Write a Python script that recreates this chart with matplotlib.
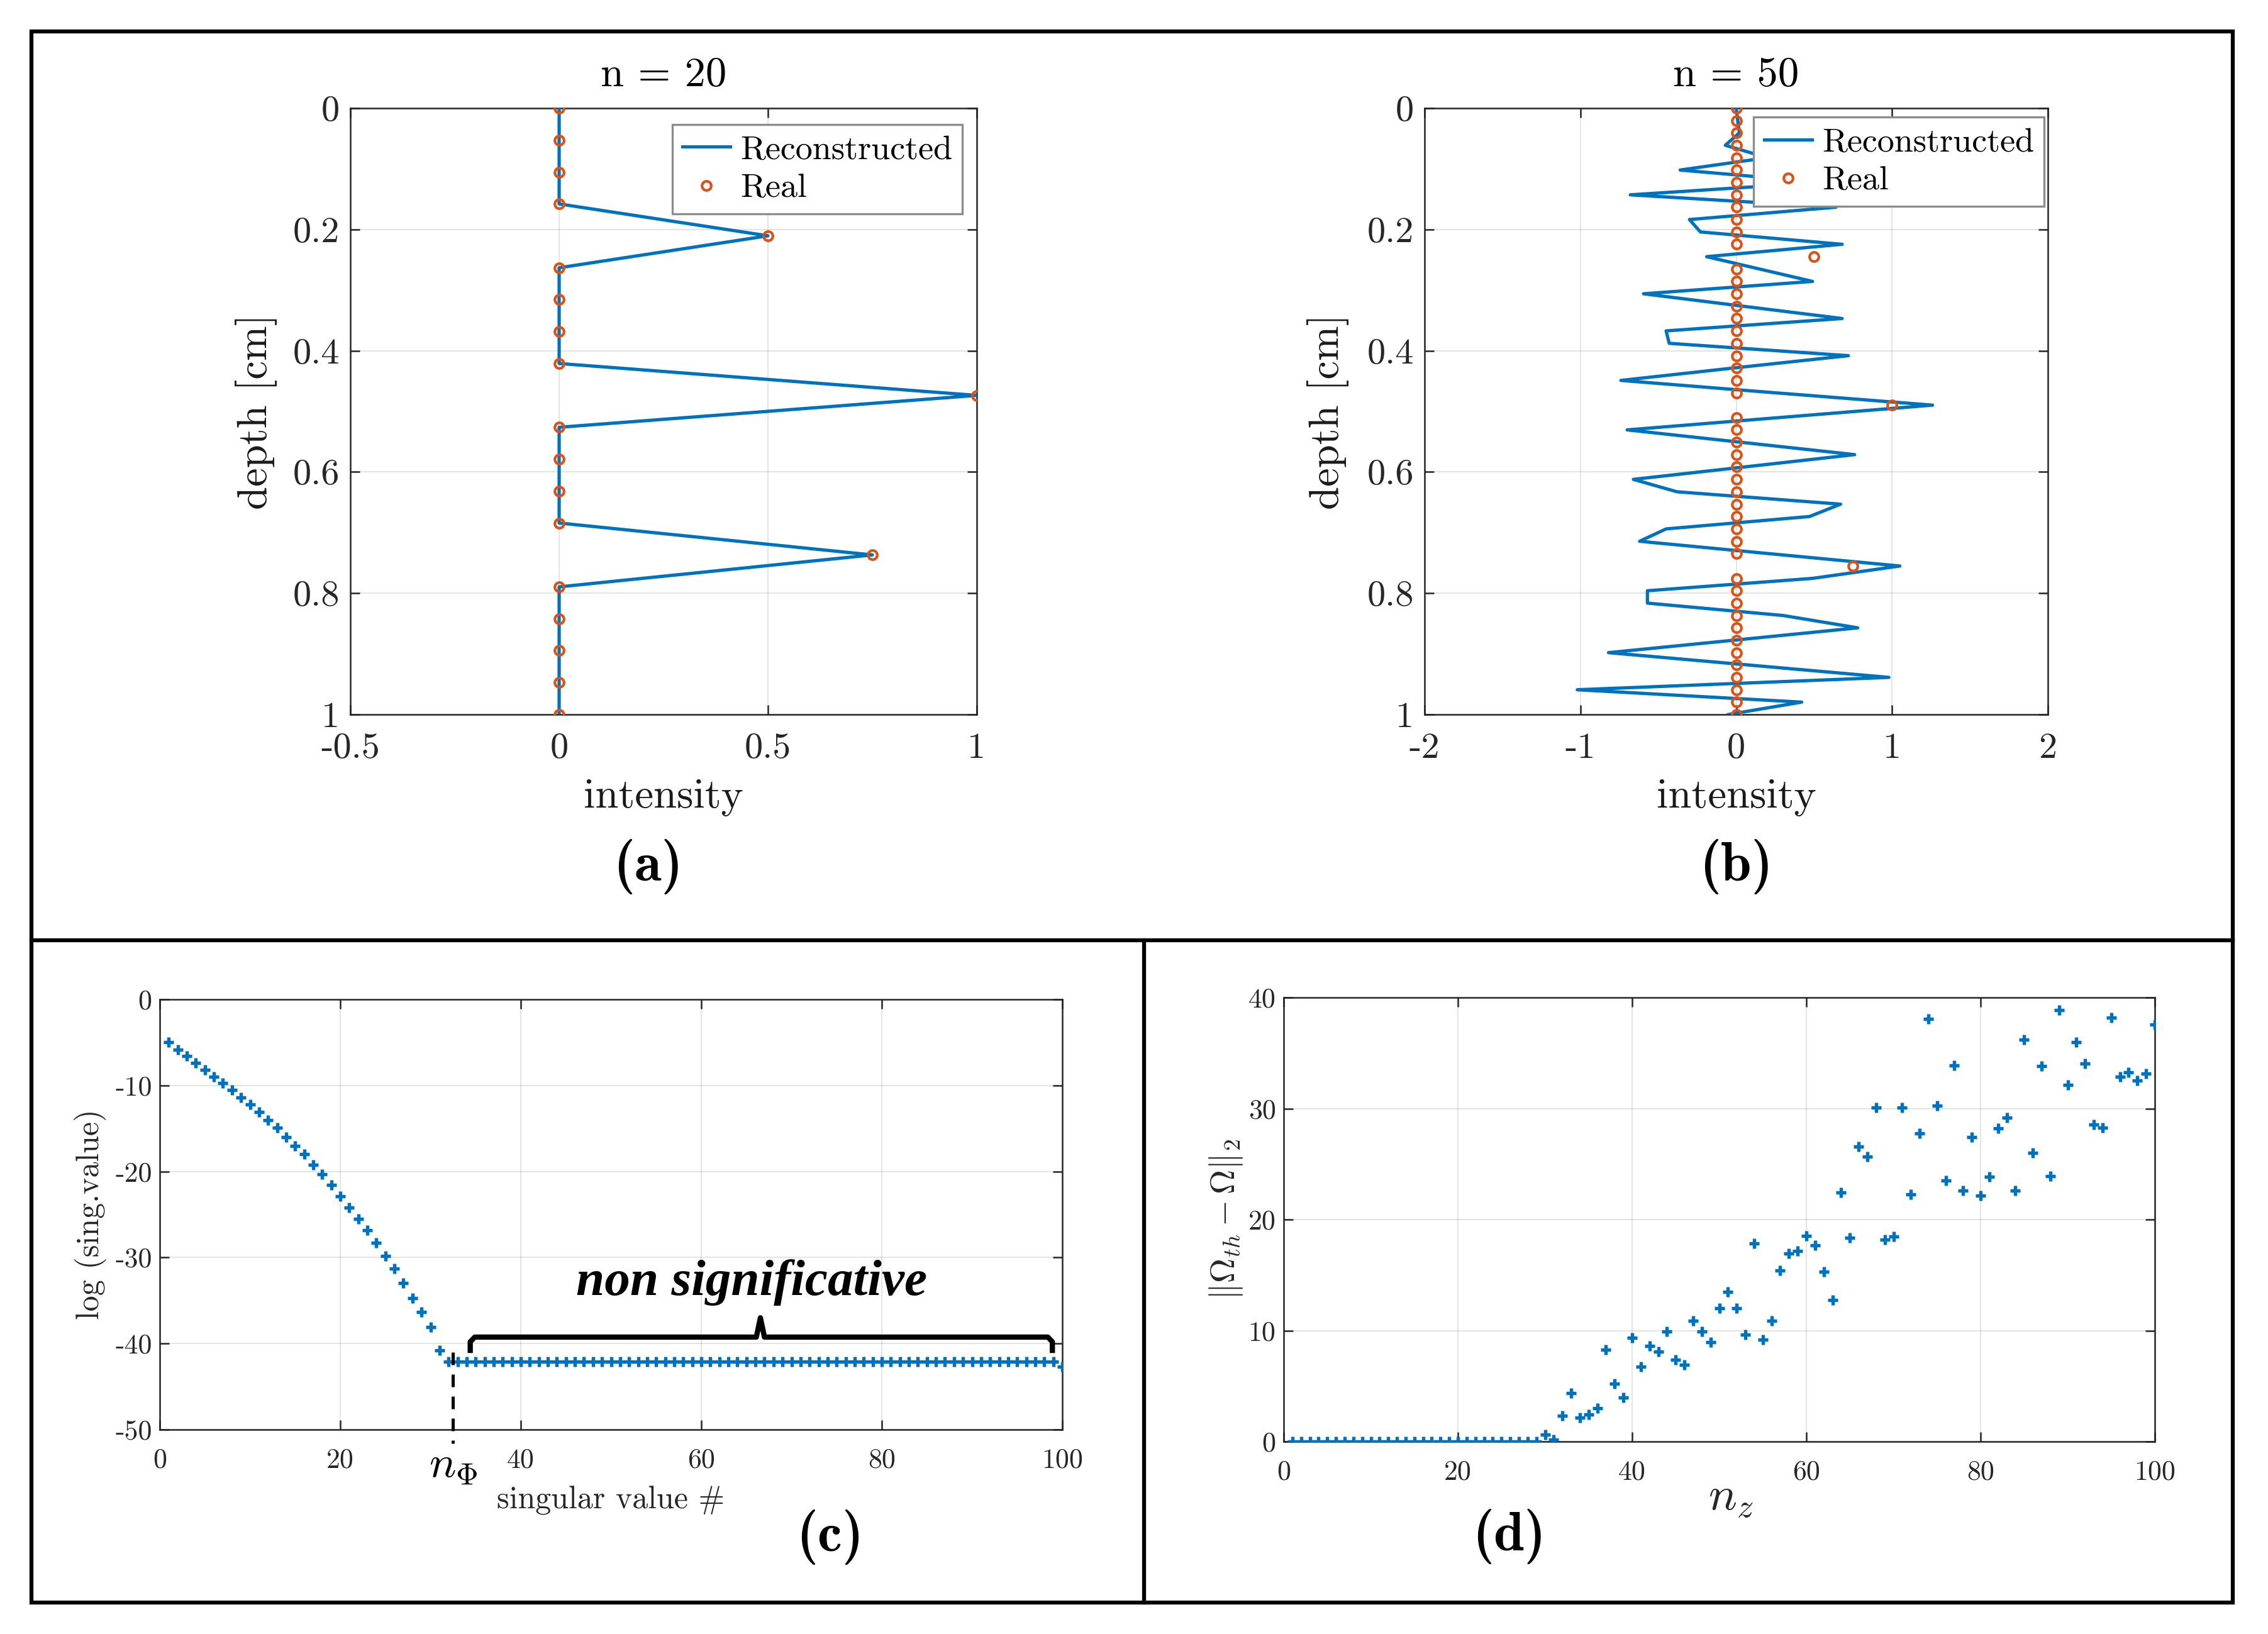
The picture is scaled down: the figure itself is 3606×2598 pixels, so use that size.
import numpy as np
import matplotlib
matplotlib.use("Agg")
import matplotlib.pyplot as plt
from matplotlib.lines import Line2D
from matplotlib.patches import Rectangle
import matplotlib.transforms as mtransforms

plt.rcParams['font.family'] = ['cmr10', 'DejaVu Serif']
plt.rcParams['mathtext.fontset'] = 'cm'
plt.rcParams['axes.unicode_minus'] = False
plt.rcParams['axes.formatter.use_mathtext'] = False

# ---------------- data ----------------
# panel (a): n = 20
depth_a = [0.0, 0.0526, 0.1053, 0.1579, 0.2105, 0.2632, 0.3158, 0.3684, 0.4211, 0.4737,
           0.5263, 0.5789, 0.6316, 0.6842, 0.7368, 0.7895, 0.8421, 0.8947, 0.9474, 1.0]
real_a = [0, 0, 0, 0, 0.5, 0, 0, 0, 0, 1.0,
          0, 0, 0, 0, 0.75, 0, 0, 0, 0, 0]
recon_a = [0, 0, 0, 0, 0.5, 0, 0, 0, 0, 1.0,
           0, 0, 0, 0, 0.75, 0, 0, 0, 0, 0]

# panel (b): n = 50
depth_b = [0.0, 0.0204, 0.0408, 0.0612, 0.0816, 0.1020, 0.1224, 0.1429, 0.1633, 0.1837,
           0.2041, 0.2245, 0.2449, 0.2653, 0.2857, 0.3061, 0.3265, 0.3469, 0.3673, 0.3878,
           0.4082, 0.4286, 0.4490, 0.4694, 0.4898, 0.5102, 0.5306, 0.5510, 0.5714, 0.5918,
           0.6122, 0.6327, 0.6531, 0.6735, 0.6939, 0.7143, 0.7347, 0.7551, 0.7755, 0.7959,
           0.8163, 0.8367, 0.8571, 0.8776, 0.8980, 0.9184, 0.9388, 0.9592, 0.9796, 1.0]
real_b = [0, 0, 0, 0, 0, 0, 0, 0, 0, 0,
          0, 0, 0.5, 0, 0, 0, 0, 0, 0, 0,
          0, 0, 0, 0, 1.0, 0, 0, 0, 0, 0,
          0, 0, 0, 0, 0, 0, 0, 0.75, 0, 0,
          0, 0, 0, 0, 0, 0, 0, 0, 0, 0]
recon_b = [0.0, 0.01, 0.02, -0.07, 0.2, -0.36, 0.55, -0.68, 0.64, -0.30,
           -0.23, 0.68, -0.19, 0.15, 0.49, -0.595, 0.04, 0.68, -0.45, -0.43,
           0.72, -0.02, -0.74, 0.25, 1.26, 0.28, -0.70, 0.03, 0.76, 0.05,
           -0.66, -0.38, 0.67, 0.47, -0.45, -0.62, 0.21, 1.05, 0.49, -0.57,
           -0.57, 0.30, 0.78, -0.02, -0.82, 0.08, 0.98, -1.02, 0.42, -0.05]

# panel (c): log of singular values
sv_index = np.arange(1, 101)
sv_log = [-4.94, -5.83, -6.6, -7.4, -8.2, -8.96, -9.75, -10.5, -11.4, -12.2,
          -13.1, -14.0, -14.9, -16.0, -17.0, -18.0, -19.2, -20.3, -21.6, -22.9,
          -24.2, -25.5, -26.8, -28.3, -29.8, -31.3, -33.0, -34.7, -36.3, -38.1,
          -40.8, -42.1, -42.1, -42.1, -42.1, -42.1, -42.1, -42.1, -42.1, -42.1,
          -42.1, -42.1, -42.1, -42.1, -42.1, -42.1, -42.1, -42.1, -42.1, -42.1,
          -42.1, -42.1, -42.1, -42.1, -42.1, -42.1, -42.1, -42.1, -42.1, -42.1,
          -42.1, -42.1, -42.1, -42.1, -42.1, -42.1, -42.1, -42.1, -42.1, -42.1,
          -42.1, -42.1, -42.1, -42.1, -42.1, -42.1, -42.1, -42.1, -42.1, -42.1,
          -42.1, -42.1, -42.1, -42.1, -42.1, -42.1, -42.1, -42.1, -42.1, -42.1,
          -42.1, -42.1, -42.1, -42.1, -42.1, -42.1, -42.1, -42.1, -42.1, -42.7]
n_phi = 32.5

# panel (d): error norm vs n_z
nz = np.arange(1, 101)
err_norm = [0, 0, 0, 0, 0, 0, 0, 0, 0, 0,
            0, 0, 0, 0, 0, 0, 0, 0, 0, 0,
            0, 0, 0, 0, 0, 0, 0, 0, 0, 0.65,
            0.16, 2.34, 4.39, 2.18, 2.44, 3.02, 8.26, 5.2, 3.97, 9.37,
            6.76, 8.62, 8.13, 9.92, 7.38, 6.93, 10.89, 9.92, 8.98, 12.03,
            13.5, 12.03, 9.66, 17.82, 9.17, 10.86, 15.41, 16.94, 17.17, 18.54,
            17.69, 15.28, 12.75, 22.44, 18.34, 26.6, 25.69, 30.08, 18.21, 18.47,
            30.08, 22.28, 27.74, 38.05, 30.24, 23.54, 33.89, 22.63, 27.45, 22.18,
            23.87, 28.2, 29.17, 22.63, 36.2, 26.02, 33.82, 23.93, 38.86, 32.13,
            36.0, 34.05, 28.55, 28.29, 38.21, 32.85, 33.27, 32.52, 33.17, 37.56]

# tick labels
xt_a = [-0.5, 0, 0.5, 1]
xt_a_lab = ['-0.5', '0', '0.5', '1']
xt_b = [-2, -1, 0, 1, 2]
xt_b_lab = ['-2', '-1', '0', '1', '2']
yt_ab = [0, 0.2, 0.4, 0.6, 0.8, 1]
yt_ab_lab = ['0', '0.2', '0.4', '0.6', '0.8', '1']
xt_cd = [0, 20, 40, 60, 80, 100]
xt_cd_lab = ['0', '20', '40', '60', '80', '100']
yt_c = [0, -10, -20, -30, -40, -50]
yt_c_lab = ['0', '-10', '-20', '-30', '-40', '-50']
yt_d = [0, 10, 20, 30, 40]
yt_d_lab = ['0', '10', '20', '30', '40']
panel_letters = ['(a)', '(b)', '(c)', '(d)']

# ---------------- style ----------------
BLUE = '#0072BD'
ORANGE = '#D95319'
AXC = '0.15'
W, H = 3606, 2598

fig = plt.figure(figsize=(W / 300, H / 300), dpi=300)


def axes_px(x0, y0, x1, y1):
    return fig.add_axes([x0 / W, 1 - y1 / H, (x1 - x0) / W, (y1 - y0) / H])


def matlab_style(ax, tick_fs):
    for s in ax.spines.values():
        s.set_color(AXC)
        s.set_linewidth(0.6)
    ax.tick_params(direction='in', which='both', top=True, right=True,
                   length=3.5, width=0.6, color=AXC, labelcolor=AXC,
                   labelsize=tick_fs)
    ax.grid(True, color=AXC, alpha=0.12, linewidth=0.5)
    ax.set_axisbelow(True)


# ---- panel (a) ----
ax_a = axes_px(557, 172, 1553, 1136)
matlab_style(ax_a, 14)
ax_a.plot(recon_a, depth_a, color=BLUE, lw=1.25, label='Reconstructed', zorder=3)
ax_a.plot(real_a, depth_a, 'o', mfc='none', mec=ORANGE, ms=3.5, mew=1.0,
          label='Real', zorder=4)
ax_a.set_xlim(-0.5, 1)
ax_a.set_ylim(1, 0)
ax_a.set_xticks(xt_a)
ax_a.set_xticklabels(xt_a_lab)
ax_a.set_yticks(yt_ab)
ax_a.set_yticklabels(yt_ab_lab)
ax_a.tick_params(axis='x', pad=7)
ax_a.tick_params(axis='y', pad=4)
ax_a.set_xlabel('intensity', fontsize=16, color='0.1')
ax_a.set_ylabel('depth [cm]', fontsize=16, color='0.1')
ax_a.xaxis.set_label_coords(0.5, -0.137)
ax_a.yaxis.set_label_coords(-0.150, 0.5)
ax_a.xaxis.label.set_va('center')
ax_a.yaxis.label.set_va('center')
ax_a.text(0.5, 1.054, 'n = 20', transform=ax_a.transAxes, ha='center',
          va='center', fontsize=16)
leg = ax_a.legend(loc='upper right', bbox_to_anchor=(0.977, 0.973),
                  borderaxespad=0, fontsize=13, fancybox=False, framealpha=1,
                  edgecolor='0.55', borderpad=0.3, handletextpad=0.3,
                  labelspacing=0.25, handlelength=1.4)
leg.get_frame().set_linewidth(0.8)

# ---- panel (b) ----
ax_b = axes_px(2265, 172, 3256, 1136)
matlab_style(ax_b, 14)
ax_b.plot(recon_b, depth_b, color=BLUE, lw=1.25, label='Reconstructed', zorder=3)
ax_b.plot(real_b, depth_b, 'o', mfc='none', mec=ORANGE, ms=3.5, mew=1.0,
          label='Real', zorder=4)
ax_b.set_xlim(-2, 2)
ax_b.set_ylim(1, 0)
ax_b.set_xticks(xt_b)
ax_b.set_xticklabels(xt_b_lab)
ax_b.set_yticks(yt_ab)
ax_b.set_yticklabels(yt_ab_lab)
ax_b.tick_params(axis='x', pad=7)
ax_b.tick_params(axis='y', pad=4)
ax_b.set_xlabel('intensity', fontsize=16, color='0.1')
ax_b.set_ylabel('depth [cm]', fontsize=16, color='0.1')
ax_b.xaxis.set_label_coords(0.5, -0.137)
ax_b.yaxis.set_label_coords(-0.155, 0.5)
ax_b.xaxis.label.set_va('center')
ax_b.yaxis.label.set_va('center')
ax_b.text(0.5, 1.054, 'n = 50', transform=ax_b.transAxes, ha='center',
          va='center', fontsize=16)
leg = ax_b.legend(loc='upper right', bbox_to_anchor=(0.994, 0.985),
                  borderaxespad=0, fontsize=13, fancybox=False, framealpha=1,
                  edgecolor='0.55', borderpad=0.3, handletextpad=0.3,
                  labelspacing=0.25, handlelength=1.4)
leg.get_frame().set_linewidth(0.8)

# ---- panel (c) ----
ax_c = axes_px(254, 1589, 1689, 2273)
matlab_style(ax_c, 10.5)
ax_c.plot(sv_index, sv_log, '+', color=BLUE, ms=4, mew=1.3, zorder=3)
ax_c.set_xlim(0, 100)
ax_c.set_ylim(-50, 0)
ax_c.set_xticks(xt_cd)
ax_c.set_xticklabels(xt_cd_lab)
ax_c.set_yticks(yt_c)
ax_c.set_yticklabels(yt_c_lab)
ax_c.tick_params(axis='x', pad=7)
ax_c.tick_params(axis='y', pad=3)
ax_c.set_xlabel('singular value #', fontsize=12, color='0.15')
ax_c.set_ylabel('log (sing.value)', fontsize=12, color='0.15')
ax_c.xaxis.set_label_coords(0.5, -0.165)
ax_c.yaxis.set_label_coords(-0.077, 0.5)
ax_c.xaxis.label.set_va('center')
ax_c.yaxis.label.set_va('center')
# dashed marker of n_Phi
ax_c.plot([n_phi, n_phi], [-41.0, -51.6], color='black', ls=(0, (4, 3)),
          lw=1.2, clip_on=False, zorder=5)
trans_c = mtransforms.blended_transform_factory(ax_c.transData, ax_c.transAxes)
ax_c.text(n_phi, -0.085, r'$n_\Phi$', transform=trans_c, ha='center',
          va='center', fontsize=17)
# brace
brace_x = [34.4, 34.4, 34.9, 66.1, 66.55, 67.0, 98.4, 98.9, 98.9]
brace_y = [-41.1, -39.8, -39.25, -39.25, -37.0, -39.25, -39.25, -39.8, -41.1]
ax_c.plot(brace_x, brace_y, color='black', lw=2.0, solid_joinstyle='round',
          solid_capstyle='butt', zorder=5)
ax_c.text(65.6, -32.9, 'non significative', ha='center', va='center',
          fontsize=19.5, fontweight='bold', fontstyle='italic',
          family=['Liberation Serif', 'DejaVu Serif'], zorder=6)

# ---- panel (d) ----
ax_d = axes_px(2041, 1586, 3426, 2292)
matlab_style(ax_d, 10.5)
ax_d.plot(nz, err_norm, '+', color=BLUE, ms=4, mew=1.3, zorder=3)
ax_d.set_xlim(0, 100)
ax_d.set_ylim(0, 40)
ax_d.set_xticks(xt_cd)
ax_d.set_xticklabels(xt_cd_lab)
ax_d.set_yticks(yt_d)
ax_d.set_yticklabels(yt_d_lab)
ax_d.tick_params(axis='x', pad=7)
ax_d.tick_params(axis='y', pad=3)
ax_d.set_xlabel(r'$n_z$', fontsize=18, color='0.15')
ax_d.set_ylabel(r'$\|\Omega_{th}-\Omega\|_2$', fontsize=13, color='0.15')
ax_d.xaxis.set_label_coords(0.513, -0.129)
ax_d.yaxis.set_label_coords(-0.066, 0.5)
ax_d.xaxis.label.set_va('center')
ax_d.yaxis.label.set_va('center')

# ---- panel letters ----
letter_pos = [(1030, 1378), (2760, 1378), (1320, 2444), (2399, 2443)]
for (px, py), lab in zip(letter_pos, panel_letters):
    fig.text(px / W, 1 - py / H, lab, ha='center', va='center', fontsize=21,
             family=['cmb10', 'DejaVu Serif'])

# ---- frames ----
fig.add_artist(Rectangle((50 / W, 1 - 2548 / H), (3550 - 50) / W, (2548 - 50) / H,
                         transform=fig.transFigure, fill=False, ec='black', lw=1.5))
fig.add_artist(Line2D([50 / W, 3550 / W], [1 - 1495 / H, 1 - 1495 / H],
                      transform=fig.transFigure, color='black', lw=1.5))
fig.add_artist(Line2D([1819 / W, 1819 / W], [1 - 1495 / H, 1 - 2548 / H],
                      transform=fig.transFigure, color='black', lw=1.5))

fig.savefig('out.png', dpi=300, facecolor='white')
